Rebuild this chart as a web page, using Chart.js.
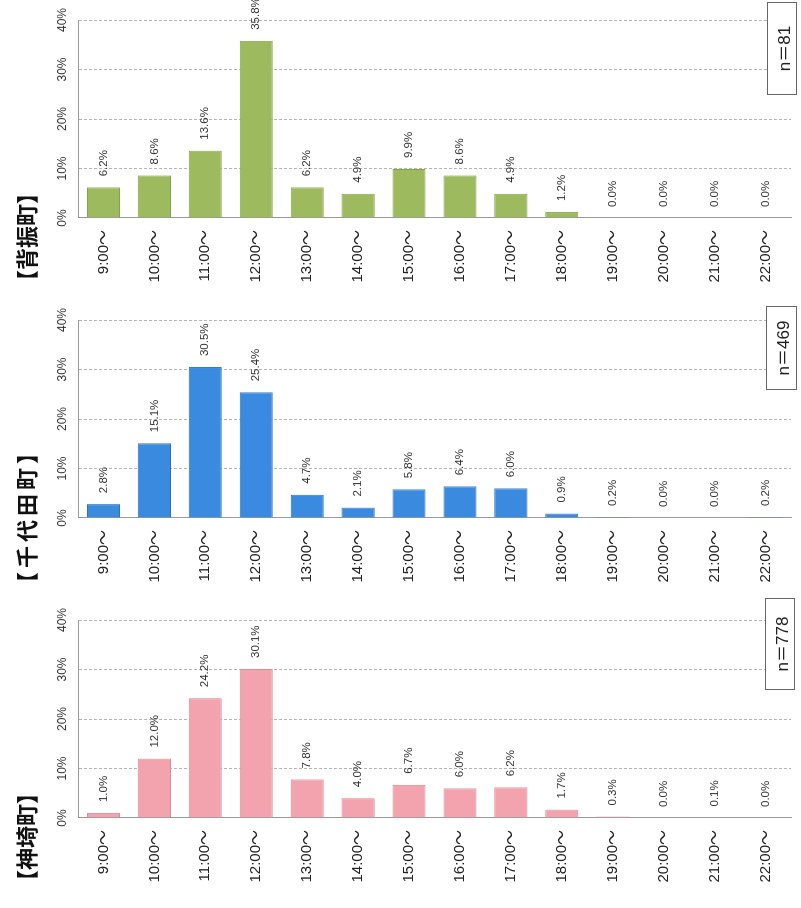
<!DOCTYPE html>
<html><head><meta charset="utf-8">
<script src="https://cdn.jsdelivr.net/npm/chart.js@4"></script>
<style>
html,body{margin:0;padding:0;background:#fff;overflow:hidden;width:801px;height:908px;}
#wrap{position:absolute;left:0;top:0;width:908px;height:812px;transform-origin:0 0;transform:translateY(908px) rotate(-90deg);}
.title{position:absolute;top:12px;font-weight:bold;font-size:22px;font-family:"Noto Sans CJK JP";line-height:26px;color:#111;white-space:nowrap;}
.nbox{position:absolute;border:1px solid #666;background:#fff;font-size:17px;font-family:"Liberation Sans","Noto Sans CJK JP";color:#222;display:flex;align-items:center;justify-content:center;box-sizing:border-box;}
canvas{position:absolute;top:0;}
</style></head><body>
<div id="wrap">
  <canvas id="c3" width="300" height="812" style="left:8px"></canvas>
  <canvas id="c2" width="300" height="812" style="left:308px"></canvas>
  <canvas id="c1" width="300" height="812" style="left:608px"></canvas>
  <div class="title" id="t3" style="left:16px"></div>
  <div class="title" id="t2" style="left:314px;letter-spacing:4px"></div>
  <div class="title" id="t1" style="left:616px"></div>
  <div class="nbox" id="n3" style="left:218px;top:765px;width:92px;height:30px"></div>
  <div class="nbox" id="n2" style="left:518px;top:766px;width:84px;height:31px"></div>
  <div class="nbox" id="n1" style="left:813px;top:767px;width:93px;height:30px"></div>
</div>
<script>
const timeSlots = ['9:00～','10:00～','11:00～','12:00～','13:00～','14:00～','15:00～','16:00～','17:00～','18:00～','19:00～','20:00～','21:00～','22:00～'];
const seburiValues = [6.2, 8.6, 13.6, 35.8, 6.2, 4.9, 9.9, 8.6, 4.9, 1.2, 0.0, 0.0, 0.0, 0.0];
const chiyodaValues = [2.8, 15.1, 30.5, 25.4, 4.7, 2.1, 5.8, 6.4, 6.0, 0.9, 0.2, 0.0, 0.0, 0.2];
const kanzakiValues = [1.0, 12.0, 24.2, 30.1, 7.8, 4.0, 6.7, 6.0, 6.2, 1.7, 0.3, 0.0, 0.1, 0.0];
const valueTicks = [0, 10, 20, 30, 40];
const townTitles = ['【背振町】', '【千代田町】', '【神埼町】'];
const sampleSizes = ['n＝81', 'n＝469', 'n＝778'];

const FONT = '"Liberation Sans","Noto Sans CJK JP"';

const valueLabels = {
  id: 'valueLabels',
  afterDatasetsDraw(chart) {
    const ctx = chart.ctx;
    const meta = chart.getDatasetMeta(0);
    const vals = chart.data.datasets[0].data;
    ctx.save();
    ctx.font = '11.5px ' + FONT;
    ctx.fillStyle = '#333';
    ctx.textAlign = 'left';
    ctx.textBaseline = 'middle';
    meta.data.forEach((el, i) => {
      ctx.fillText(vals[i].toFixed(1) + '%', el.x + 11, el.y);
    });
    ctx.restore();
  }
};

function makeChart(id, values, fill, stroke) {
  return new Chart(document.getElementById(id), {
    type: 'bar',
    data: {
      labels: timeSlots,
      datasets: [{
        data: values,
        backgroundColor: fill,
        borderColor: stroke,
        borderWidth: 1,
        barPercentage: 0.65,
        categoryPercentage: 1
      }]
    },
    options: {
      indexAxis: 'y',
      responsive: false,
      animation: false,
      devicePixelRatio: 1,
      layout: { padding: { left: 0, right: 17, top: 0, bottom: 6 } },
      plugins: { legend: { display: false }, tooltip: { enabled: false } },
      scales: {
        x: {
          position: 'top',
          min: 0, max: 40,
          afterBuildTicks: s => { s.ticks = valueTicks.map(v => ({ value: v })); },
          afterFit: s => { s.height = 78; },
          ticks: { callback: v => v + '%', padding: 8, color: '#333', font: { size: 12, family: FONT } },
          grid: { color: '#b5b5b5', drawTicks: false, lineWidth: 1 },
          border: { display: true, color: '#999', dash: [3, 2] }
        },
        y: {
          afterFit: s => { s.width = 82; },
          ticks: { padding: 12, color: '#222', autoSkip: false, font: { size: 15, family: FONT } },
          grid: { display: false, drawTicks: false },
          border: { display: true, color: '#999' }
        }
      }
    },
    plugins: [valueLabels]
  });
}

makeChart('c1', seburiValues, '#9dbb5e', '#84a449');
makeChart('c2', chiyodaValues, '#3a8ae0', '#2b72c4');
makeChart('c3', kanzakiValues, '#f3a3ad', '#de8b96');

document.getElementById('t1').textContent = townTitles[0];
document.getElementById('t2').textContent = townTitles[1];
document.getElementById('t3').textContent = townTitles[2];
document.getElementById('n1').textContent = sampleSizes[0];
document.getElementById('n2').textContent = sampleSizes[1];
document.getElementById('n3').textContent = sampleSizes[2];
</script>
</body></html>
